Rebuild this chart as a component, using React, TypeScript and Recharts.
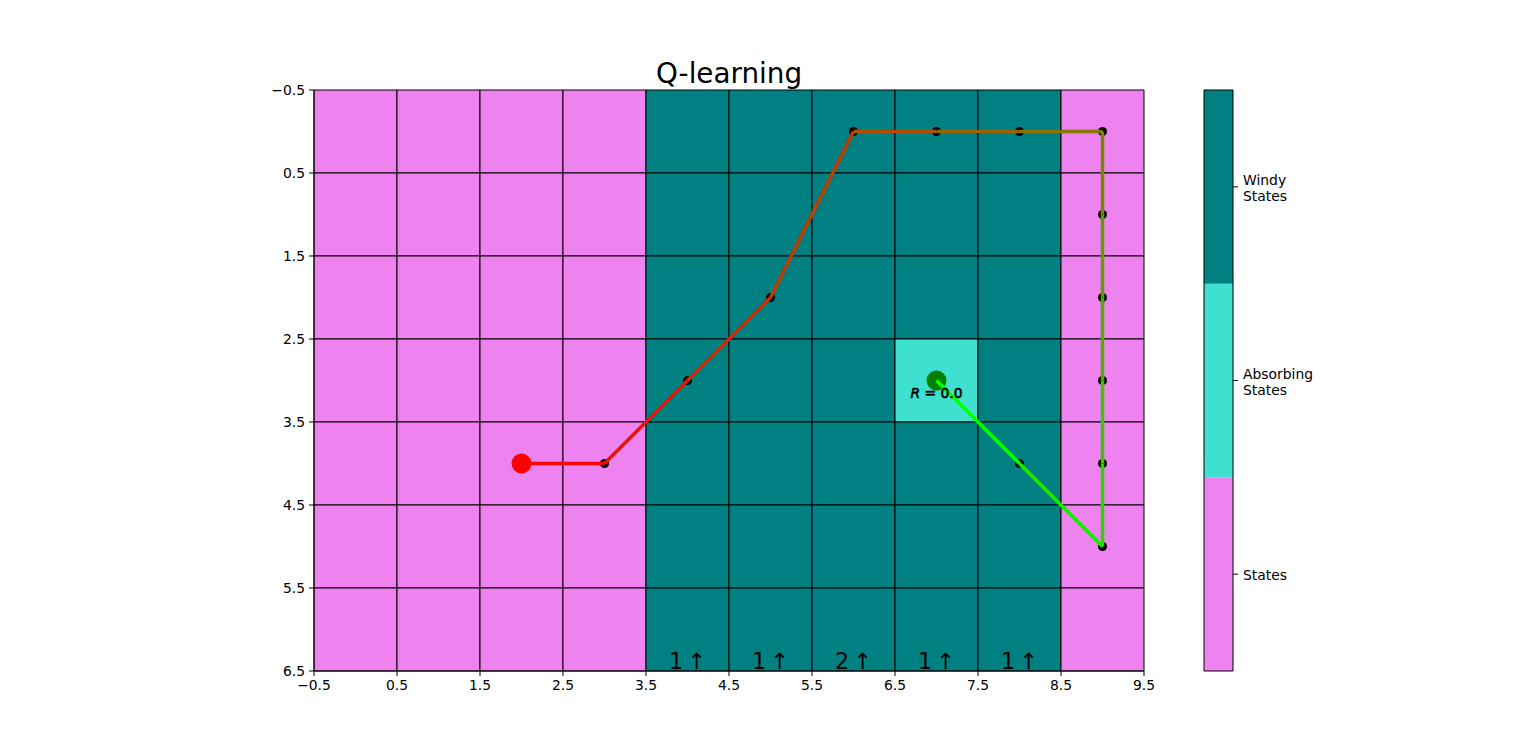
import { ComposedChart, ReferenceArea, Scatter, XAxis, YAxis } from "recharts";

const FONT = "DejaVu Sans";
const VIOLET = "#ee82ee";
const TEAL = "#008080";
const TURQUOISE = "#40e0d0";

// grid layout: S = state, W = windy state, A = absorbing state
const cellRows = [
  "SSSSWWWWWS",
  "SSSSWWWWWS",
  "SSSSWWWWWS",
  "SSSSWWWAWS",
  "SSSSWWWWWS",
  "SSSSWWWWWS",
  "SSSSWWWWWS",
];
const cellFill: Record<string, string> = { S: VIOLET, W: TEAL, A: TURQUOISE };

// wind strength per column (shown under windy columns)
const windStrength = [0, 0, 0, 0, 1, 1, 2, 1, 1, 0];
const windLabelY = 6.47;

// greedy path found by Q-learning
const pathX = [2, 3, 4, 5, 6, 7, 8, 9, 9, 9, 9, 9, 9, 8, 7];
const pathY = [4, 4, 3, 2, 0, 0, 0, 0, 1, 2, 3, 4, 5, 4, 3];
const segmentColors = [
  "#ff0000", "#eb1400", "#d82700", "#c43b00", "#b14e00", "#9d6200", "#897600",
  "#768900", "#629d00", "#4eb100", "#3bc400", "#27d800", "#14eb00", "#00ff00",
];

const rewardText = "R = 0.0";
const rewardPos = { x: 7, y: 3.21 };

const xTicks = [-0.5, 0.5, 1.5, 2.5, 3.5, 4.5, 5.5, 6.5, 7.5, 8.5, 9.5];
const yTicks = [-0.5, 0.5, 1.5, 2.5, 3.5, 4.5, 5.5, 6.5];

const legendLabels = [["States"], ["Absorbing", "States"], ["Windy", "States"]];
const legendColors = [VIOLET, TURQUOISE, TEAL];

const fmt = (v: number) => (v < 0 ? `\u2212${Math.abs(v).toFixed(1)}` : v.toFixed(1));
const tickStyle = { fill: "#000", fontSize: 13.9, fontFamily: FONT };

const pathPoints = pathX.map((x, i) => ({ x, y: pathY[i] }));
const segments = segmentColors.map((c, i) => ({ color: c, data: [pathPoints[i], pathPoints[i + 1]] }));
const windLabels = windStrength
  .map((w, col) => ({ x: col, y: windLabelY, w }))
  .filter((d) => d.w > 0);
const legendPoints = legendLabels.map((_, i) => ({ x: 0.5, y: i }));

function ColorbarTick({ x, y, payload }: any) {
  const lines = legendLabels[payload.value] || [];
  return (
    <text x={x} y={y} fill="#000" fontSize={13.9} fontFamily={FONT} textAnchor="start">
      {lines.map((l, i) => (
        <tspan key={i} x={x} y={y + (i - (lines.length - 1) / 2) * 16 + 6}>
          {l}
        </tspan>
      ))}
    </text>
  );
}

export default function App() {
  return (
    <div style={{ position: "absolute", left: 0, top: 0, width: 1536, height: 754, background: "#fff", fontFamily: FONT }}>
      <div style={{ position: "absolute", left: 529, top: 58, width: 400, textAlign: "center", fontSize: 27.8, lineHeight: "32px", color: "#000" }}>
        Q-learning
      </div>
      <div style={{ position: "absolute", left: 0, top: 0 }}>
        <ComposedChart width={1200} height={754} margin={{ top: 90, right: 56, bottom: 53, left: 254 }}>
          <XAxis
            type="number"
            dataKey="x"
            domain={[-0.5, 9.5]}
            ticks={xTicks}
            interval={0}
            allowDataOverflow
            height={30}
            tick={tickStyle}
            tickFormatter={fmt}
            tickSize={5}
            tickMargin={4}
            stroke="#000"
            tickLine={{ stroke: "#000" }}
          />
          <YAxis
            type="number"
            dataKey="y"
            reversed
            domain={[-0.5, 6.5]}
            ticks={yTicks}
            interval={0}
            allowDataOverflow
            width={60}
            tick={tickStyle}
            tickFormatter={fmt}
            tickSize={5}
            tickMargin={4}
            stroke="#000"
            tickLine={{ stroke: "#000" }}
          />
          {cellRows.flatMap((row, r) =>
            row.split("").map((t, c) => (
              <ReferenceArea
                key={`c${r}-${c}`}
                x1={c - 0.5}
                x2={c + 0.5}
                y1={r - 0.5}
                y2={r + 0.5}
                fill={cellFill[t]}
                fillOpacity={1}
                stroke="#000"
                strokeWidth={1}
              />
            )),
          )}
          <Scatter
            data={pathPoints}
            fill="#000"
            isAnimationActive={false}
            shape={(p: any) => <circle cx={p.cx} cy={p.cy} r={4.5} fill="#000" />}
          />
          <Scatter
            data={[pathPoints[pathPoints.length - 1]]}
            fill="#008000"
            isAnimationActive={false}
            shape={(p: any) => <circle cx={p.cx} cy={p.cy} r={10} fill="#008000" />}
          />
          {segments.map((s, i) => (
            <Scatter
              key={`s${i}`}
              data={s.data}
              fill={s.color}
              line={{ stroke: s.color, strokeWidth: 3.5 }}
              isAnimationActive={false}
              shape={() => <g />}
            />
          ))}
          <Scatter
            data={[pathPoints[0]]}
            fill="#ff0000"
            isAnimationActive={false}
            shape={(p: any) => <circle cx={p.cx} cy={p.cy} r={10} fill="#ff0000" />}
          />
          <Scatter
            data={[rewardPos]}
            isAnimationActive={false}
            shape={(p: any) => (
              <text x={p.cx} y={p.cy} textAnchor="middle" fontSize={13.9} fontFamily={FONT} fill="#000" stroke="#000" strokeWidth={0.6}>
                <tspan fontStyle="italic">R</tspan>
                {rewardText.slice(1)}
              </text>
            )}
          />
          <Scatter
            data={windLabels}
            isAnimationActive={false}
            shape={(p: any) => (
              <text x={p.cx} y={p.cy} textAnchor="middle" fontSize={22.2} fontFamily={FONT} fill="#000">
                {`${p.payload.w}\u2009\u2191`}
              </text>
            )}
          />
        </ComposedChart>
      </div>
      <div style={{ position: "absolute", left: 1190, top: 0 }}>
        <ComposedChart width={150} height={754} margin={{ top: 90, right: 27, bottom: 83, left: 14 }}>
          <XAxis type="number" dataKey="x" domain={[0, 1]} hide />
          <YAxis
            type="number"
            dataKey="y"
            orientation="right"
            domain={[-0.5, 2.5]}
            ticks={[0, 1, 2]}
            interval={0}
            allowDataOverflow
            width={80}
            axisLine={false}
            tickSize={5}
            tickMargin={5}
            tickLine={{ stroke: "#000" }}
            tick={<ColorbarTick />}
          />
          {legendColors.map((c, i) => (
            <ReferenceArea key={`l${i}`} x1={0} x2={1} y1={i - 0.5} y2={i + 0.5} fill={c} fillOpacity={1} stroke="none" />
          ))}
          <ReferenceArea x1={0} x2={1} y1={-0.5} y2={2.5} fill="none" stroke="#000" strokeWidth={1} />
          <Scatter data={legendPoints} isAnimationActive={false} shape={() => <g />} />
        </ComposedChart>
      </div>
    </div>
  );
}
